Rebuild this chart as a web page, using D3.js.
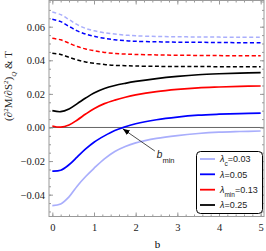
<!DOCTYPE html>
<html>
<head>
<meta charset="utf-8">
<script src="https://cdn.jsdelivr.net/npm/d3@7"></script>
<style>
  body { margin: 0; background: #fff; }
  svg { display: block; }
  .tick text { font-family: "Liberation Serif", "Times New Roman", serif; font-size: 10.5px; fill: #222; }
</style>
</head>
<body>
<div id="chart"></div>
<script>
// b grid shared by every curve
const bValues = [0, 0.2, 0.4, 0.6, 0.8, 1.0, 1.25, 1.5, 1.75, 2, 2.5, 3, 3.5, 4, 4.5, 5];

// solid curves : (d2M/dS2)_Q
const solidLc   = [-0.0465, -0.0455, -0.0413, -0.0348, -0.0292, -0.0243, -0.0187, -0.0143, -0.0113, -0.0092, -0.0065, -0.0048, -0.0036, -0.0028, -0.0024, -0.0021];
const solidL005 = [-0.0260, -0.0255, -0.0222, -0.0175, -0.0128, -0.0088, -0.0050, -0.0018, 0.0004, 0.0022, 0.0046, 0.0062, 0.0073, 0.0079, 0.0083, 0.0086];
const solidLmin = [0.0009, 0.0002, 0.0015, 0.0045, 0.0080, 0.0112, 0.0142, 0.0163, 0.0180, 0.0194, 0.0214, 0.0227, 0.0236, 0.0241, 0.0245, 0.0247];
const solidL025 = [0.0100, 0.0094, 0.0110, 0.0142, 0.0175, 0.0205, 0.0232, 0.0250, 0.0263, 0.0274, 0.0291, 0.0304, 0.0314, 0.0320, 0.0324, 0.0326];

// dashed curves : T
const dashLc   = [0.0687, 0.0672, 0.0643, 0.0612, 0.0590, 0.0576, 0.0564, 0.0556, 0.0550, 0.0546, 0.0542, 0.0540, 0.0539, 0.0538, 0.0537, 0.0537];
const dashL005 = [0.0644, 0.0630, 0.0602, 0.0575, 0.0556, 0.0543, 0.0531, 0.0522, 0.0517, 0.0513, 0.0510, 0.0508, 0.0507, 0.0506, 0.0505, 0.0505];
const dashLmin = [0.0531, 0.0522, 0.0502, 0.0482, 0.0467, 0.0457, 0.0447, 0.0441, 0.0437, 0.0435, 0.0432, 0.0430, 0.0429, 0.0428, 0.0427, 0.0427];
const dashL025 = [0.0442, 0.0435, 0.0418, 0.0402, 0.0390, 0.0382, 0.0375, 0.0370, 0.0368, 0.0366, 0.0364, 0.0363, 0.0363, 0.0362, 0.0362, 0.0362];

const xTicks = [0, 1, 2, 3, 4, 5];
const yTicks = [-0.04, -0.02, 0, 0.02, 0.04, 0.06];

// legend entries
const legendLabels = [["λ", "c", "=0.03"], ["λ", "", "=0.05"], ["λ", "min", "=0.13"], ["λ", "", "=0.25"]];
const colors = ["#a9aefc", "#0000ff", "#ff0000", "#000000"];

// annotation (b_min) in data coords
const arrowHead = [1.69, -0.0008];
const arrowTail = [2.46, -0.0140];

const W = 266, H = 251;
const plot = { left: 49, right: 264, top: 0.5, bottom: 216.5 };

const svg = d3.select("#chart").append("svg").attr("width", W).attr("height", H);

const x = d3.scaleLinear().domain([-0.08, 5.08]).range([plot.left, plot.right]);
const y = d3.scaleLinear().domain([-0.053, 0.0756]).range([plot.bottom, plot.top]);

const frameColor = "#9a9a9a";

// zero line
svg.append("line")
    .attr("x1", plot.left).attr("x2", plot.right)
    .attr("y1", y(0)).attr("y2", y(0))
    .attr("stroke", "#555").attr("stroke-width", 0.9);

// curves
const line = d3.line()
    .x(d => x(d[0]))
    .y(d => y(d[1]))
    .curve(d3.curveCatmullRom.alpha(0.5));

const solids = [solidLc, solidL005, solidLmin, solidL025];
const dashes = [dashLc, dashL005, dashLmin, dashL025];

dashes.forEach((vals, i) => {
    svg.append("path")
        .datum(bValues.map((b, j) => [b, vals[j]]))
        .attr("d", line)
        .attr("fill", "none")
        .attr("stroke", colors[i])
        .attr("stroke-width", 1.5)
        .attr("stroke-dasharray", "4,2.5");
});
solids.forEach((vals, i) => {
    svg.append("path")
        .datum(bValues.map((b, j) => [b, vals[j]]))
        .attr("d", line)
        .attr("fill", "none")
        .attr("stroke", colors[i])
        .attr("stroke-width", 1.7);
});

// frame + ticks (Mathematica style, inward)
function styleAxis(g) {
    g.select(".domain").remove();
    g.selectAll(".tick line").attr("stroke", frameColor);
}
const xMinor = d3.range(0, 5.01, 0.2).map(v => +v.toFixed(2));
const yMinor = d3.range(-0.05, 0.0751, 0.005).map(v => +v.toFixed(3));

svg.append("g").attr("transform", `translate(0,${plot.bottom})`)
    .call(d3.axisBottom(x).tickValues(xMinor).tickSize(-2).tickFormat("")).call(styleAxis);
svg.append("g").attr("transform", `translate(0,${plot.bottom})`)
    .call(d3.axisBottom(x).tickValues(xTicks).tickSize(-4).tickPadding(7).tickFormat(d3.format("d"))).call(styleAxis);
svg.append("g").attr("transform", `translate(0,${plot.top})`)
    .call(d3.axisTop(x).tickValues(xMinor).tickSize(-2).tickFormat("")).call(styleAxis);
svg.append("g").attr("transform", `translate(0,${plot.top})`)
    .call(d3.axisTop(x).tickValues(xTicks).tickSize(-4).tickFormat("")).call(styleAxis);

svg.append("g").attr("transform", `translate(${plot.left},0)`)
    .call(d3.axisLeft(y).tickValues(yMinor).tickSize(-2).tickFormat("")).call(styleAxis);
svg.append("g").attr("transform", `translate(${plot.left},0)`)
    .call(d3.axisLeft(y).tickValues(yTicks).tickSize(-4).tickPadding(4).tickFormat(d3.format(".2f"))).call(styleAxis);
svg.append("g").attr("transform", `translate(${plot.right},0)`)
    .call(d3.axisRight(y).tickValues(yMinor).tickSize(-2).tickFormat("")).call(styleAxis);
svg.append("g").attr("transform", `translate(${plot.right},0)`)
    .call(d3.axisRight(y).tickValues(yTicks).tickSize(-4).tickFormat("")).call(styleAxis);

svg.append("rect")
    .attr("x", plot.left).attr("y", plot.top)
    .attr("width", plot.right - plot.left).attr("height", plot.bottom - plot.top)
    .attr("fill", "none").attr("stroke", frameColor).attr("stroke-width", 1);

// axis labels
svg.append("text")
    .attr("x", (plot.left + plot.right) / 2 + 1).attr("y", 248)
    .attr("text-anchor", "middle")
    .style("font-family", "Liberation Serif, serif").style("font-size", "11px")
    .text("b");

const yl = svg.append("text")
    .attr("transform", "translate(12,86) rotate(-90)")
    .attr("text-anchor", "middle")
    .style("font-family", "Liberation Serif, serif").style("font-size", "11px")
    .attr("fill", "#222");
yl.append("tspan").text("(∂");
yl.append("tspan").attr("baseline-shift", "super").style("font-size", "7px").text("2");
yl.append("tspan").text("M/∂S");
yl.append("tspan").attr("baseline-shift", "super").style("font-size", "7px").text("2");
yl.append("tspan").text(")");
yl.append("tspan").attr("baseline-shift", "sub").style("font-size", "7px").style("font-style", "italic").text("Q");
yl.append("tspan").text(" & T");

// annotation arrow
svg.append("defs").append("marker")
    .attr("id", "arrow").attr("viewBox", "0 0 10 10")
    .attr("refX", 10).attr("refY", 5)
    .attr("markerWidth", 7).attr("markerHeight", 7)
    .attr("markerUnits", "userSpaceOnUse")
    .attr("orient", "auto")
    .append("path").attr("d", "M0,1 L10,5 L0,9 Z").attr("fill", "#000");

svg.append("line")
    .attr("x1", x(arrowTail[0])).attr("y1", y(arrowTail[1]))
    .attr("x2", x(arrowHead[0])).attr("y2", y(arrowHead[1]))
    .attr("stroke", "#000").attr("stroke-width", 0.7)
    .attr("marker-end", "url(#arrow)");

const bl = svg.append("text")
    .attr("x", x(arrowTail[0]) + 2).attr("y", y(arrowTail[1]) + 7)
    .style("font-family", "Liberation Sans, Arial, sans-serif").style("font-size", "10px")
    .attr("fill", "#222");
bl.append("tspan").style("font-style", "italic").text("b");
bl.append("tspan").attr("baseline-shift", "sub").style("font-size", "7.5px").text("min");

// legend
const legend = svg.append("g");
legend.append("rect")
    .attr("x", 196.5).attr("y", 151.5).attr("width", 66).attr("height", 62)
    .attr("rx", 4).attr("ry", 4)
    .attr("fill", "#fff").attr("stroke", "#000").attr("stroke-width", 1);

const rowY = [159, 174.3, 189.7, 205];
legendLabels.forEach((lab, i) => {
    legend.append("line")
        .attr("x1", 200).attr("x2", 215)
        .attr("y1", rowY[i]).attr("y2", rowY[i])
        .attr("stroke", colors[i]).attr("stroke-width", 1.8);
    const t = legend.append("text")
        .attr("x", 220).attr("y", rowY[i] + 3.2)
        .style("font-family", "Liberation Sans, Arial, sans-serif").style("font-size", "9px")
        .attr("fill", "#222");
    t.append("tspan").style("font-style", "italic").text(lab[0]);
    if (lab[1]) t.append("tspan").attr("baseline-shift", "sub").style("font-size", "6.5px").text(lab[1]);
    t.append("tspan").text(lab[2]);
});
</script>
</body>
</html>
